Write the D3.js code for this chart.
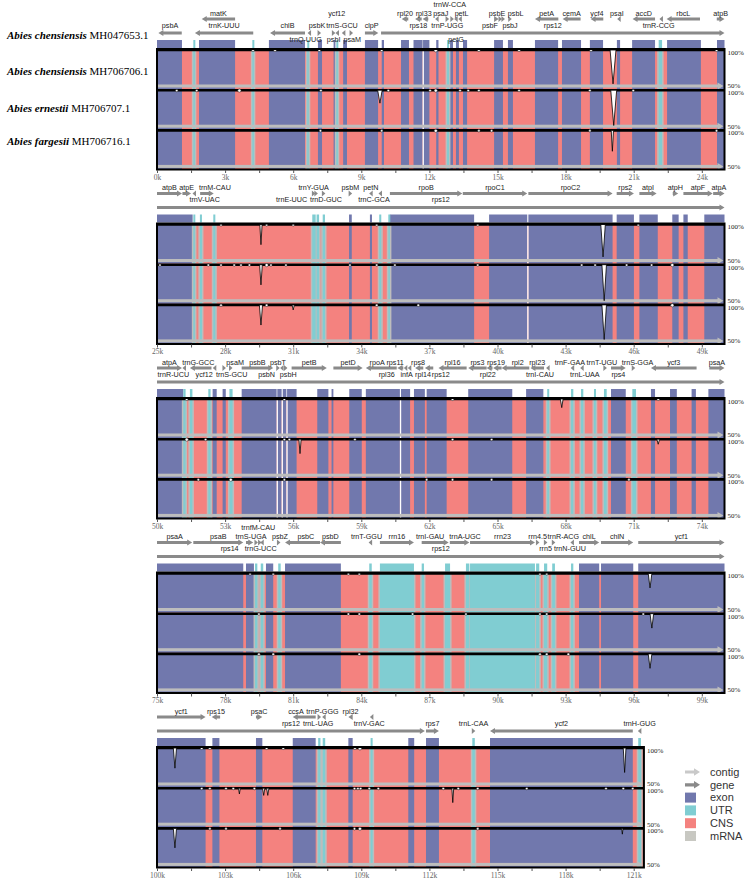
<!DOCTYPE html>
<html>
<head>
<meta charset="utf-8">
<script src="https://cdn.jsdelivr.net/npm/d3@7"></script>
<style>
  body { margin: 0; background: #fff; }
</style>
</head>
<body>
<svg id="chart" width="745" height="880"></svg>
<script>
// ---- data (kb along the reference genome) ----
var species = [
  ["Abies chensiensis", "MH047653.1"],
  ["Abies chensiensis", "MH706706.1"],
  ["Abies ernestii", "MH706707.1"],
  ["Abies fargesii", "MH706716.1"]
];
var panelStarts = [0, 25, 50, 75, 100];
var genomeLength = 121.45;

var exons = [
  [0, 1.1], [1.85, 3.44], [4.93, 6.52], [7.09, 7.27], [7.78, 7.86], [8.2, 8.37], [9.16, 9.74], [9.9, 10.0],
  [10.75, 11.1], [11.3, 11.7], [11.72, 12.0], [12.3, 12.4], [12.91, 13.04], [13.17, 13.3], [13.48, 13.66],
  [14.85, 15.24], [15.46, 15.68], [16.65, 17.67], [17.84, 18.68], [19.07, 19.65], [20.26, 20.4],
  [20.93, 21.94], [22.47, 23.96], [24.67, 26.57], [33.46, 33.58], [34.38, 34.47], [35.26, 38.97],
  [39.63, 41.31], [41.36, 45.07], [45.25, 46.01], [46.25, 47.06], [47.7, 47.98], [48.19, 48.38],
  [49.11, 51.16], [52.45, 52.63], [52.89, 53.03], [53.73, 55.27], [55.3, 55.49], [55.54, 55.7],
  [55.73, 56.15], [57.06, 57.55], [57.69, 57.77], [58.47, 59.02], [59.2, 60.7], [60.75, 61.15],
  [61.32, 61.8], [61.88, 62.76], [63.71, 65.65], [66.26, 67.02], [70.0, 70.65], [71.76, 71.94],
  [72.6, 72.9], [73.55, 73.74], [74.29, 78.8], [78.92, 79.27], [79.8, 80.12], [80.64, 83.1],
  [93.59, 94.48], [94.56, 95.98], [96.2, 102.14], [102.44, 102.75], [104.36, 104.64], [105.98, 106.99],
  [108.43, 108.62], [111.07, 111.33], [111.85, 112.42], [114.67, 120.96]
];

var utrs = [
  [1.6, 1.66], [4.2, 4.26], [6.62, 6.68], [7.9, 7.96], [12.78, 12.86], [22.1, 22.25],
  [26.6, 26.67], [26.89, 26.98], [27.48, 27.57], [31.84, 31.99], [32.03, 32.14], [32.3, 32.4],
  [34.79, 34.88], [35.19, 35.26], [51.16, 51.26], [51.45, 51.56], [52.26, 52.36], [53.19, 53.33],
  [67.19, 67.27], [68.24, 68.34], [68.68, 68.78], [69.25, 69.33], [69.69, 69.81], [70.94, 71.1],
  [79.32, 79.42], [79.57, 79.68], [80.34, 80.45], [84.35, 84.46], [84.82, 86.32], [86.66, 86.76],
  [87.69, 87.91], [88.61, 88.76], [88.79, 91.65], [91.7, 91.84], [92.05, 92.19], [92.41, 92.53],
  [93.24, 93.34], [107.1, 107.2], [107.3, 107.41], [109.41, 109.5], [113.89, 114.0], [121.2, 121.32]
];

// [name, start, end, strand, lane, label tier, label anchor (optional)]
var genes = [
  ["psbA", 0.06, 1.09, -1, 1, 2], ["trnK-UUU", 1.67, 4.24, -1, 1, 2], ["matK", 1.97, 3.44, -1, 0, 1],
  ["chlB", 4.98, 6.52, -1, 1, 2], ["trnQ-UUG", 6.66, 6.76, -1, 1, 3, 6.55], ["psbK", 7.1, 7.2, 1, 1, 2, 7.05],
  ["psbI", 7.74, 7.82, 1, 1, 3], ["trnS-GCU", 7.9, 7.98, -1, 1, 2, 8.15], ["ycf12", 8.18, 8.26, -1, 1, 1, 7.92],
  ["psaM", 8.5, 8.62, 1, 1, 3, 8.6], ["clpP", 9.16, 9.75, 1, 1, 2], ["rps12", 9.87, 111.8, 1, 1, 2],
  ["rpl20", 10.78, 11.07, -1, 0, 1], ["rps18", 11.37, 11.66, -1, 0, 2], ["rpl33", 11.7, 11.95, -1, 0, 1, 11.75],
  ["psaJ", 12.28, 12.38, -1, 0, 1, 12.5], ["trnP-UGG", 12.75, 12.83, 1, 0, 2], ["trnW-CCA", 12.96, 13.04, 1, 0, 0, 12.9],
  ["petG", 13.13, 13.21, -1, 0, 3], ["petL", 13.31, 13.39, -1, 0, 1, 13.42],
  ["psbE", 14.85, 15.05, 1, 0, 1, 14.98], ["psbF", 15.07, 15.17, 1, 0, 2, 14.67], ["psbL", 15.2, 15.3, 1, 0, 1, 15.8],
  ["psbJ", 15.5, 15.6, 1, 0, 2], ["petA", 16.65, 17.68, -1, 0, 1], ["cemA", 17.87, 18.66, -1, 0, 1],
  ["ycf4", 19.1, 19.66, -1, 0, 1], ["psaI", 20.3, 20.4, -1, 0, 1, 20.26], ["accD", 20.95, 21.94, -1, 0, 1],
  ["trnR-CCG", 22.16, 22.26, -1, 0, 2, 22.1], ["rbcL", 22.45, 23.92, -1, 0, 1], ["atpB", 24.66, 26.1, 1, 0, 1],
  ["atpE", 26.12, 26.5, 1, 0, 1], ["trnV-UAC", 26.6, 26.68, -1, 0, 2, 27.1], ["trnM-CAU", 26.9, 27.5, 1, 0, 1, 27.55],
  ["trnY-GUA", 31.86, 31.94, 1, 0, 1], ["trnE-UUC", 31.97, 32.05, 1, 0, 2, 30.93], ["trnD-GUC", 32.3, 32.38, 1, 0, 2, 32.44],
  ["psbM", 33.46, 33.58, 1, 0, 1], ["petN", 34.38, 34.47, -1, 0, 1], ["trnC-GCA", 34.79, 34.88, -1, 0, 2, 34.56],
  ["rpoB", 35.26, 38.45, 1, 0, 1], ["rpoC1", 38.47, 41.31, 1, 0, 1], ["rpoC2", 41.36, 45.07, 1, 0, 1],
  ["rps2", 45.25, 46.01, 1, 0, 1], ["atpI", 46.25, 47.01, 1, 0, 1], ["atpH", 47.72, 47.96, 1, 0, 1],
  ["atpF", 48.19, 49.48, 1, 0, 1], ["atpA", 49.5, 51.1, 1, 0, 1],
  ["trnR-UCU", 51.16, 51.24, -1, 0, 2, 50.72], ["trnG-GCC", 51.45, 52.4, -1, 0, 1, 51.82], ["ycf12", 52.47, 52.6, -1, 0, 2, 52.08],
  ["psaM", 52.9, 53.02, 1, 0, 1, 53.44], ["trnS-GCU", 53.2, 53.3, 1, 0, 2, 53.29], ["psbB", 53.73, 55.12, 1, 0, 1],
  ["psbT", 55.28, 55.38, 1, 0, 1], ["psbN", 55.46, 55.54, -1, 0, 2, 54.83], ["psbH", 55.62, 55.72, 1, 0, 2, 55.78],
  ["petB", 55.93, 57.48, 1, 0, 1], ["petD", 57.77, 59.06, 1, 0, 1], ["rpoA", 59.2, 60.56, -1, 0, 1, 59.7],
  ["rps11", 60.59, 60.85, -1, 0, 1, 60.49], ["rpl36", 60.9, 61.0, -1, 0, 2, 60.12], ["infA", 61.05, 61.2, -1, 0, 2, 61.0],
  ["rps8", 61.37, 61.73, -1, 0, 1, 61.5], ["rpl14", 61.8, 62.17, -1, 0, 2, 61.72], ["rpl16", 62.4, 63.64, -1, 0, 1],
  ["rps3", 63.71, 64.52, -1, 0, 1], ["rpl22", 64.52, 64.78, -1, 0, 2, 64.57], ["rps19", 64.81, 65.18, -1, 0, 1, 64.93],
  ["rpl2", 65.18, 66.4, -1, 0, 1, 65.89], ["rpl23", 66.45, 67.05, -1, 0, 1, 66.75], ["trnI-CAU", 67.18, 67.26, -1, 0, 2, 66.87],
  ["trnF-GAA", 68.26, 68.34, -1, 0, 1, 68.19], ["trnL-UAA", 68.68, 68.76, -1, 0, 2, 68.85], ["trnT-UGU", 69.7, 69.78, 1, 0, 1, 69.6],
  ["rps4", 70.0, 70.65, 1, 0, 2], ["trnS-GGA", 70.94, 71.04, 1, 0, 1, 71.17], ["ycf3", 71.76, 73.77, -1, 0, 1],
  ["psaA", 74.33, 76.55, 1, 0, 1], ["psaB", 76.6, 78.8, 1, 0, 1],
  ["rps14", 78.92, 79.24, 1, 0, 2, 78.2], ["trnfM-CAU", 79.32, 79.42, 1, 0, 0, 79.46], ["trnS-UGA", 79.5, 79.56, 1, 0, 1, 79.14],
  ["trnG-UCC", 79.57, 79.68, -1, 0, 2, 79.57], ["psbZ", 80.3, 80.42, 1, 0, 1, 80.42], ["psbC", 80.64, 82.18, -1, 0, 1, 81.56],
  ["psbD", 82.18, 83.1, -1, 0, 1], ["trnT-GGU", 84.35, 84.45, -1, 0, 1, 84.23], ["rrn16", 84.82, 86.32, 1, 0, 1],
  ["trnI-GAU", 86.66, 87.85, 1, 0, 1, 87.03], ["trnA-UGC", 87.9, 88.76, 1, 0, 1, 88.57], ["rrn23", 88.79, 91.65, 1, 0, 1],
  ["rrn4.5", 91.7, 91.84, 1, 0, 1], ["rrn5", 92.05, 92.19, 1, 0, 2], ["trnR-ACG", 92.41, 92.53, 1, 0, 1, 92.9],
  ["trnN-GUU", 93.24, 93.34, -1, 0, 2, 93.19], ["chlL", 93.59, 94.48, 1, 0, 1], ["chlN", 94.56, 95.98, 1, 0, 1],
  ["ycf1", 96.2, 102.14, 1, 0, 1], ["rps15", 102.41, 102.78, -1, 0, 1], ["psaC", 104.36, 104.64, 1, 0, 1],
  ["ccsA", 105.98, 106.99, -1, 0, 1, 106.12], ["trnL-UAG", 107.1, 107.2, 1, 0, 2, 107.1], ["trnP-GGG", 107.3, 107.41, -1, 0, 1, 107.29],
  ["rpl32", 108.43, 108.62, -1, 0, 1], ["trnV-GAC", 109.41, 109.5, -1, 0, 2, 109.35], ["rps7", 111.85, 112.42, 1, 1, 2],
  ["trnL-CAA", 113.89, 114.0, 1, 1, 2], ["ycf2", 114.67, 120.96, -1, 1, 2], ["trnH-GUG", 121.2, 121.32, -1, 1, 2]
];

// conservation dips: [position kb, lowest identity %, half width kb]
var dipsMH706706 = [
  [4.23, 97], [5.2, 97], [7.15, 97], [9.9, 97], [12.28, 96], [14.18, 97], [15.95, 97], [19.12, 97], [20.09, 53, 0.13], [24.65, 97],
  [27.82, 97], [29.58, 72, 0.05], [29.83, 97], [31.0, 97], [34.68, 97], [39.13, 97], [44.65, 55, 0.1], [46.2, 97],
  [51.31, 97], [55.61, 97], [63.02, 97], [67.83, 88, 0.06], [72.08, 97],
  [79.1, 97], [80.12, 97], [83.43, 97], [83.91, 97], [91.87, 97], [92.17, 97], [96.72, 80, 0.08],
  [100.79, 72, 0.07], [101.97, 97], [102.33, 97], [104.83, 97], [105.56, 97], [108.72, 97], [108.94, 96], [120.6, 66, 0.06]
];
var dipsMH706707 = [
  [0.87, 97], [1.75, 97], [3.63, 96], [7.22, 97], [9.82, 82, 0.1], [10.19, 97], [12.03, 97], [12.28, 96], [13.35, 97],
  [13.71, 97], [14.18, 97], [15.95, 97], [19.07, 97], [20.12, 51, 0.13], [20.98, 97],
  [25.13, 97], [27.26, 97], [27.82, 97], [28.4, 97], [28.7, 97], [29.07, 97], [29.58, 72, 0.06], [29.83, 96], [30.02, 97],
  [30.68, 97], [33.5, 97], [34.68, 97], [35.48, 97], [39.13, 97], [43.71, 97], [44.3, 97], [44.7, 50, 0.1], [45.69, 97],
  [46.79, 97], [47.7, 96],
  [51.31, 96], [52.14, 97], [55.61, 97], [55.83, 97], [56.3, 80, 0.05], [58.72, 97], [63.02, 97], [64.74, 97], [72.08, 93, 0.06],
  [79.49, 97], [83.43, 97], [83.91, 97], [86.26, 97], [88.61, 97], [91.87, 97], [92.17, 97], [96.42, 97], [96.8, 80, 0.08],
  [101.97, 97], [102.33, 97], [103.04, 97], [103.36, 97], [103.63, 92, 0.04], [104.29, 97], [104.7, 90, 0.05], [104.88, 90, 0.05],
  [108.7, 97], [108.85, 97], [108.97, 97], [109.35, 97], [109.75, 97], [112.61, 97], [113.03, 80, 0.04], [113.27, 97],
  [114.13, 97], [116.29, 97], [119.78, 97], [120.54, 97], [120.96, 97]
];
var dipsMH706716 = [
  [7.2, 97], [9.9, 97], [12.28, 96], [14.18, 97], [14.74, 97], [19.07, 97], [20.06, 71, 0.05], [24.65, 97],
  [27.82, 97], [29.58, 72, 0.07], [29.83, 97], [31.0, 93, 0.05], [34.68, 97], [36.51, 97], [44.7, 52, 0.1], [47.7, 96],
  [51.82, 97], [53.25, 96], [55.61, 97], [61.88, 97], [63.02, 97], [64.74, 97], [70.79, 97],
  [79.49, 97], [80.12, 97], [83.91, 97], [91.87, 97], [92.17, 97], [93.12, 97], [96.72, 80, 0.08],
  [100.79, 73, 0.07], [102.33, 97], [103.04, 97], [105.42, 97], [108.7, 97], [108.94, 96], [114.13, 97], [120.5, 92, 0.03]
];
var trackDips = [dipsMH706706, dipsMH706707, dipsMH706716];

var legendItems = ["contig", "gene", "exon", "UTR", "CNS", "mRNA"];

// ---- styles ----
var C = { exon: "#7178ad", utr: "#80cdd2", cns: "#f4827f", mrna: "#bdbdbd", gene: "#8a8a8a", contig: "#c9c9c9" };
var SANS = "'Liberation Sans', Arial, sans-serif", SERIF = "'Liberation Serif', 'Times New Roman', serif";

var svg = d3.select("#chart");

function arrowPath(xa, xb, yc, dir, bh, hh, hl) {
  if (xb - xa < 3.5) { var m = (xa + xb) / 2; xa = m - 1.75; xb = m + 1.75; }
  hl = Math.min(hl, xb - xa);
  var p;
  if (dir > 0) {
    var xh = xb - hl;
    p = [[xa, yc - bh], [xh, yc - bh], [xh, yc - hh], [xb, yc], [xh, yc + hh], [xh, yc + bh], [xa, yc + bh]];
  } else {
    var xh2 = xa + hl;
    p = [[xb, yc - bh], [xh2, yc - bh], [xh2, yc - hh], [xa, yc], [xh2, yc + hh], [xh2, yc + bh], [xb, yc + bh]];
  }
  return "M" + p.join("L") + "Z";
}

panelStarts.forEach(function(start, i) {
  var end = Math.min(start + 25, genomeLength);
  var T = 49 + i * 174.5;
  var x = d3.scaleLinear().domain([start, start + 25]).range([157, 724.5]);
  var g = svg.append("g");
  var inPanel = function(a) { return a[1] > start && a[0] < end; };
  var clip = function(a) { return [Math.max(a[0], start), Math.min(a[1], end)]; };
  var exP = exons.filter(inPanel).map(clip);
  var utP = utrs.filter(inPanel).map(clip);

  // feature strip above the tracks
  g.selectAll(null).data(exP).join("rect")
    .attr("x", function(d) { return x(d[0]); }).attr("y", T - 9)
    .attr("width", function(d) { return x(d[1]) - x(d[0]); }).attr("height", 8)
    .attr("fill", C.exon);
  g.selectAll(null).data(utP).join("rect")
    .attr("x", function(d) { return x(d[0]); }).attr("y", T - 9)
    .attr("width", function(d) { return Math.max(2, x(d[1]) - x(d[0])); }).attr("height", 8)
    .attr("fill", C.utr);

  // three comparison tracks
  trackDips.forEach(function(dips, k) {
    var top = T + k * 40.2;
    var h = k < 2 ? 40.2 : 39.8;
    var y = d3.scaleLinear().domain([50, 100]).range([top + 37, top + 1]);

    g.append("rect").attr("x", x(start)).attr("y", top).attr("width", x(end) - x(start)).attr("height", h)
      .attr("fill", C.cns);
    g.selectAll(null).data(exP).join("rect")
      .attr("x", function(d) { return x(d[0]); }).attr("y", top)
      .attr("width", function(d) { return x(d[1]) - x(d[0]); }).attr("height", h)
      .attr("fill", C.exon);
    // white seams between touching exons
    var seams = [];
    for (var j = 1; j < exP.length; j++) {
      if (exP[j][0] - exP[j - 1][1] < 0.06) seams.push([exP[j - 1][1], exP[j][0]]);
    }
    g.selectAll(null).data(seams).join("rect")
      .attr("x", function(d) { return x(d[0]); }).attr("y", top)
      .attr("width", function(d) { return Math.max(1.3, x(d[1]) - x(d[0])); }).attr("height", h)
      .attr("fill", "#fff");
    g.selectAll(null).data(utP).join("rect")
      .attr("x", function(d) { return x(d[0]) - 1.5; }).attr("y", top)
      .attr("width", function(d) { return Math.max(1.5, x(d[1]) - x(d[0])) + 3; }).attr("height", h)
      .attr("fill", C.mrna);
    g.selectAll(null).data(utP).join("rect")
      .attr("x", function(d) { return x(d[0]); }).attr("y", top)
      .attr("width", function(d) { return Math.max(1.5, x(d[1]) - x(d[0])); }).attr("height", h)
      .attr("fill", C.utr);

    // 50% baseline with arrow
    var xe = x(end);
    g.append("rect").attr("x", x(start)).attr("y", top + 35.5).attr("width", xe - x(start) - 4).attr("height", 3)
      .attr("fill", C.mrna);
    g.append("path").attr("d", "M" + (xe - 7) + "," + (top + 33.5) + "L" + (xe - 1) + "," + (top + 37) + "L" + (xe - 7) + "," + (top + 40.5) + "Z")
      .attr("fill", C.mrna);

    // 100% line and dips
    g.append("line").attr("x1", x(start)).attr("x2", xe).attr("y1", top + 1).attr("y2", top + 1)
      .attr("stroke", "#000").attr("stroke-width", 2.6);
    var pd = dips.filter(function(d) { return d[0] >= start && d[0] <= end; });
    g.selectAll(null).data(pd.filter(function(d) { return d[1] < 95; })).join("path")
      .attr("d", function(d) {
        return "M" + x(d[0] - d[2]) + "," + y(100) + "L" + x(d[0]) + "," + y(d[1]) + "L" + x(d[0] + d[2]) + "," + y(100) + "Z";
      })
      .attr("fill", "#fff").attr("stroke", "#000").attr("stroke-width", 0.8);
    g.selectAll(null).data(pd.filter(function(d) { return d[1] >= 95; })).join("circle")
      .attr("cx", function(d) { return x(d[0]); }).attr("cy", top + 1.4)
      .attr("r", function(d) { return d[1] < 97 ? 1.6 : 1.2; })
      .attr("fill", "#fff").attr("stroke", "#222").attr("stroke-width", 0.5);

    // right-hand scale labels
    g.append("text").attr("x", xe + 3).attr("y", top + 3.5).attr("dy", "0.35em").text("100%")
      .attr("font-family", SERIF).attr("font-size", 7).attr("fill", "#222");
    g.append("text").attr("x", xe + 3).attr("y", top + 37).attr("dy", "0.35em").text("50%")
      .attr("font-family", SERIF).attr("font-size", 7).attr("fill", "#222");
  });

  // panel frame
  g.append("rect").attr("x", x(start)).attr("y", T).attr("width", x(end) - x(start)).attr("height", 120.5)
    .attr("fill", "none").attr("stroke", "#000").attr("stroke-width", 2);

  // axis
  var axis = d3.axisBottom(x).tickValues(d3.range(start, end + 1e-6, 1.5)).tickSize(3).tickPadding(1.5)
    .tickFormat(function(d) { return Math.abs((d - start) % 3) < 1e-6 ? d + "k" : ""; });
  g.append("g").attr("transform", "translate(0," + (T + 121) + ")").call(axis)
    .call(function(a) { a.select(".domain").remove(); })
    .call(function(a) { a.selectAll("line").attr("stroke", "#555"); })
    .call(function(a) {
      a.selectAll("text").attr("font-family", SERIF).attr("font-size", 7.5).attr("fill", "#666");
    });

  // gene arrows and labels
  var laneY = [T - 30, T - 16];
  var tierY = [T - 45, T - 36, T - 24, T - 10];
  var gp = genes.filter(function(d) { return d[2] > start && d[1] < end; });
  g.selectAll(null).data(gp).join("path")
    .attr("d", function(d) {
      var a = x(Math.max(d[1], start)), b = x(Math.min(d[2], end));
      return arrowPath(a, b, laneY[d[4]], d[3], 1.4, 3, 5);
    })
    .attr("fill", C.gene);
  g.selectAll(null).data(gp).join("text")
    .attr("x", function(d) {
      if (d[6] !== undefined && d[6] >= start && d[6] <= end) return x(d[6]);
      return (x(Math.max(d[1], start)) + x(Math.min(d[2], end))) / 2;
    })
    .attr("y", function(d) { return tierY[d[5]]; })
    .attr("dy", "0.35em").attr("text-anchor", "middle")
    .attr("font-family", SANS).attr("font-size", 7.2).attr("fill", "#222")
    .text(function(d) { return d[0]; });
});

// species names on the left
var speciesY = [35, 71, 108, 141];
species.forEach(function(s, i) {
  var t = svg.append("text").attr("x", 7).attr("y", speciesY[i]).attr("dy", "0.35em")
    .attr("font-family", SERIF).attr("font-size", 11).attr("fill", "#000");
  t.append("tspan").attr("font-weight", "bold").attr("font-style", "italic").text(s[0]);
  t.append("tspan").text(" " + s[1]);
});

// legend
var lg = svg.append("g");
legendItems.forEach(function(name, i) {
  var cy = 772 + i * 12.8;
  if (i < 2) {
    lg.append("path").attr("d", arrowPath(685, 700, cy, 1, 1.6, 3.8, 6)).attr("fill", i === 0 ? C.contig : C.gene);
  } else {
    var fill = [C.exon, C.utr, C.cns, "#c8c8c2"][i - 2];
    lg.append("rect").attr("x", 685).attr("y", cy - 5).attr("width", 11).attr("height", 10).attr("fill", fill);
  }
  lg.append("text").attr("x", 710).attr("y", cy).attr("dy", "0.35em").text(name)
    .attr("font-family", SANS).attr("font-size", 11).attr("fill", "#333");
});
</script>
</body>
</html>
